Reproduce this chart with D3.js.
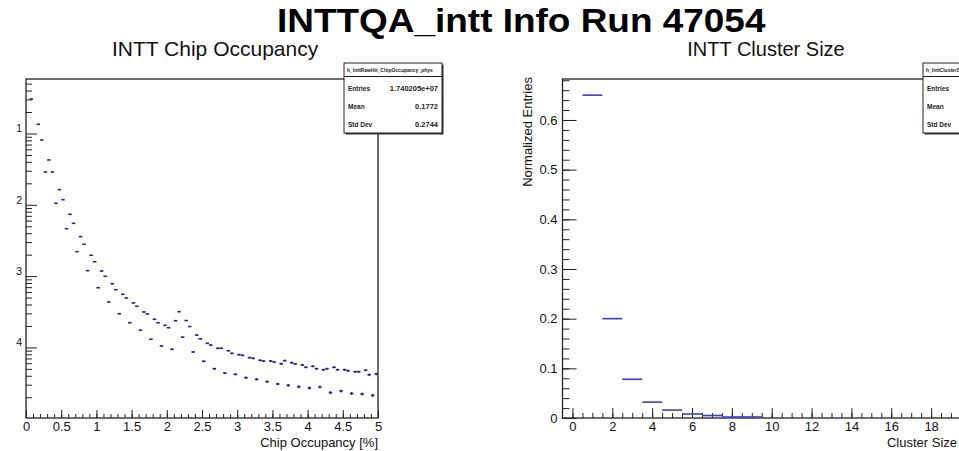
<!DOCTYPE html>
<html>
<head>
<meta charset="utf-8">
<script src="https://cdn.jsdelivr.net/npm/d3@7"></script>
<style>
  body { margin: 0; background: #fff; }
  text { font-family: "Liberation Sans", Arial, Helvetica, sans-serif; }
</style>
</head>
<body>
<svg id="chart" width="959" height="451"></svg>
<script>
// ---------------- data ----------------
const pageTitle = "INTTQA_intt Info Run 47054";

// chip occupancy histogram (log y), bin width 0.05 %
const occTitle = "INTT Chip Occupancy";
const occAxisTitle = "Chip Occupancy [%]";
const occHistName = "h_InttRawHit_ChipOccupancy_phys";
const occBinWidth = 0.05;
const occBinCenters = [
  0.075, 0.175, 0.225, 0.275, 0.325, 0.375, 0.425, 0.475, 0.525, 0.575,
  0.625, 0.675, 0.725, 0.775, 0.825, 0.875, 0.925, 0.975, 1.025, 1.075,
  1.125, 1.175, 1.225, 1.275, 1.325, 1.375, 1.425, 1.475, 1.525, 1.575,
  1.625, 1.675, 1.725, 1.775, 1.825, 1.875, 1.925, 1.975, 2.025, 2.075,
  2.125, 2.175, 2.225, 2.275, 2.325, 2.375, 2.425, 2.475, 2.525, 2.575,
  2.625, 2.675, 2.725, 2.775, 2.825, 2.875, 2.925, 2.975, 3.025, 3.075,
  3.125, 3.175, 3.225, 3.275, 3.325, 3.375, 3.425, 3.475, 3.525, 3.575,
  3.625, 3.675, 3.725, 3.775, 3.825, 3.875, 3.925, 3.975, 4.025, 4.075,
  4.125, 4.175, 4.225, 4.275, 4.325, 4.375, 4.425, 4.475, 4.525, 4.575,
  4.625, 4.675, 4.725, 4.775, 4.825, 4.875, 4.925, 4.975
];
const occValues = [
  3.05e-1, 1.346e-1, 8.11e-2, 2.88e-2, 4.25e-2, 2.88e-2, 1.05e-2, 1.63e-2, 1.178e-2, 4.62e-3,
  7.36e-3, 5.50e-3, 2.20e-3, 3.57e-3, 2.79e-3, 1.19e-3, 1.96e-3, 1.59e-3, 6.87e-4, 1.18e-3,
  9.93e-4, 4.34e-4, 7.82e-4, 6.44e-4, 2.97e-4, 5.56e-4, 4.93e-4, 2.22e-4, 4.20e-4, 3.77e-4,
  1.74e-4, 3.14e-4, 2.94e-4, 1.30e-4, 2.48e-4, 2.22e-4, 1.05e-4, 2.04e-4, 1.89e-4, 9.40e-5,
  2.37e-4, 3.17e-4, 1.39e-4, 2.38e-4, 1.96e-4, 8.63e-5, 1.49e-4, 1.32e-4, 6.38e-5, 1.14e-4,
  1.08e-4, 5.02e-5, 9.71e-5, 9.71e-5, 4.37e-5, 8.99e-5, 8.26e-5, 4.20e-5, 7.91e-5, 7.74e-5,
  3.76e-5, 7.18e-5, 7.03e-5, 3.57e-5, 6.59e-5, 6.44e-5, 3.30e-5, 6.44e-5, 6.24e-5, 3.07e-5,
  5.90e-5, 6.52e-5, 2.94e-5, 6.11e-5, 5.85e-5, 2.81e-5, 5.66e-5, 5.26e-5, 2.70e-5, 5.43e-5,
  5.02e-5, 2.79e-5, 4.86e-5, 5.02e-5, 2.32e-5, 5.26e-5, 4.86e-5, 2.45e-5, 4.86e-5, 4.71e-5,
  2.26e-5, 4.56e-5, 4.56e-5, 2.22e-5, 4.78e-5, 4.14e-5, 2.12e-5, 4.24e-5
];
const occEntries = 1.740205e7;
const occXTicks = [0, 0.5, 1, 1.5, 2, 2.5, 3, 3.5, 4, 4.5, 5];
const occXTickLabels = ["0", "0.5", "1", "1.5", "2", "2.5", "3", "3.5", "4", "4.5", "5"];
const occYDecades = [1e-1, 1e-2, 1e-3, 1e-4];
const occYDecadeLabels = ["1", "2", "3", "4"];
const occStatNames = ["Entries", "Mean", "Std Dev"];
const occStatValues = ["1.740205e+07", "0.1772", "0.2744"];

// cluster size histogram (linear y)
const csTitle = "INTT Cluster Size";
const csAxisTitle = "Cluster Size";
const csYAxisTitle = "Normalized Entries";
const csHistName = "h_InttClusterSize";
const csSizes = [1, 2, 3, 4, 5, 6, 7, 8, 9];
const csValues = [0.65, 0.20, 0.078, 0.032, 0.016, 0.008, 0.005, 0.002, 0.002];
const csXTicks = [0, 2, 4, 6, 8, 10, 12, 14, 16, 18];
const csYTicks = [0, 0.1, 0.2, 0.3, 0.4, 0.5, 0.6];
const csYTickLabels = ["0", "0.1", "0.2", "0.3", "0.4", "0.5", "0.6"];
const csStatNames = ["Entries", "Mean", "Std Dev"];

// ---------------- drawing ----------------
const svg = d3.select("#chart");
svg.append("rect").attr("width", 959).attr("height", 451).attr("fill", "#fff");

const frameColor = "#222";
const occColor = "#24249a";
const csColor = "#3c3cd2";

// page title, slightly widened bold face
svg.append("text")
  .attr("transform", "translate(277,32) scale(1.12,1)")
  .attr("font-size", 33).attr("font-weight", "bold")
  .attr("fill", "#000")
  .text(pageTitle);

function styleAxis(g) {
  g.select(".domain").remove();
  g.selectAll(".tick line").attr("stroke", frameColor).attr("stroke-width", 1);
  g.selectAll("text").attr("fill", "#111").attr("font-family", "Liberation Sans, Arial, sans-serif");
}

// ----- left panel: chip occupancy -----
const occBox = { left: 26, right: 378, top: 79, bottom: 418 };
const xOcc = d3.scaleLinear().domain([0, 5]).range([occBox.left, occBox.right]);
const yOcc = d3.scaleLog().domain([Math.pow(10, -4.99), Math.pow(10, -0.236)])
  .range([occBox.bottom, occBox.top]);

svg.append("text")
  .attr("x", 112).attr("y", 56).attr("font-size", 21).attr("fill", "#111")
  .text(occTitle);

// x minor ticks
svg.append("g").attr("transform", `translate(0,${occBox.bottom})`)
  .call(d3.axisBottom(xOcc).tickValues(d3.range(0, 5.001, 0.1)).tickFormat("")
    .tickSizeInner(-4).tickSizeOuter(0))
  .call(styleAxis);
// x major ticks + labels
svg.append("g").attr("transform", `translate(0,${occBox.bottom})`)
  .call(d3.axisBottom(xOcc).tickValues(occXTicks)
    .tickFormat((d, i) => occXTickLabels[i])
    .tickSizeInner(-8).tickSizeOuter(0).tickPadding(4))
  .call(styleAxis)
  .call(g => g.selectAll("text").attr("font-size", 13));

svg.append("text")
  .attr("x", occBox.right).attr("y", 447).attr("text-anchor", "end")
  .attr("font-size", 13).attr("fill", "#111")
  .text(occAxisTitle);

// y log ticks: minor (2..9 per decade) and decades
const occMinor = [];
for (let e = -5; e <= 0; e++) {
  for (let m = 2; m <= 9; m++) {
    const v = m * Math.pow(10, e);
    if (v >= yOcc.domain()[0] && v <= yOcc.domain()[1]) occMinor.push(v);
  }
}
svg.append("g").attr("transform", `translate(${occBox.left},0)`)
  .call(d3.axisLeft(yOcc).tickValues(occMinor).tickFormat("")
    .tickSizeInner(-6).tickSizeOuter(0))
  .call(styleAxis);
svg.append("g").attr("transform", `translate(${occBox.left},0)`)
  .call(d3.axisLeft(yOcc).tickValues(occYDecades)
    .tickFormat((d, i) => occYDecadeLabels[i])
    .tickSizeInner(-11).tickSizeOuter(0).tickPadding(4))
  .call(styleAxis)
  .call(g => g.selectAll("text").attr("font-size", 10.5)
    .attr("dy", "-0.15em"));

// frame
svg.append("rect")
  .attr("x", occBox.left).attr("y", occBox.top)
  .attr("width", occBox.right - occBox.left).attr("height", occBox.bottom - occBox.top)
  .attr("fill", "none").attr("stroke", frameColor).attr("stroke-width", 1.3);

// occupancy points with x (bin width) and y (statistical) error bars
const occPts = occBinCenters.map((c, i) => ({ c, v: occValues[i] }));
const occG = svg.append("g").attr("stroke", occColor).attr("fill", "none");
occG.selectAll("line.h").data(occPts).join("line").attr("class", "h")
  .attr("x1", d => xOcc(d.c - occBinWidth / 2))
  .attr("x2", d => xOcc(d.c + occBinWidth / 2))
  .attr("y1", d => yOcc(d.v)).attr("y2", d => yOcc(d.v))
  .attr("stroke-width", 1.6);
occG.selectAll("line.v").data(occPts).join("line").attr("class", "v")
  .attr("x1", d => xOcc(d.c)).attr("x2", d => xOcc(d.c))
  .attr("y1", d => yOcc(d.v + Math.sqrt(d.v / occEntries)))
  .attr("y2", d => yOcc(Math.max(d.v - Math.sqrt(d.v / occEntries), 1e-9)))
  .attr("stroke-width", 1.2);

// stats box
function statsBox(x, y, w, name, names, values) {
  const g = svg.append("g");
  g.append("rect").attr("x", x + 1.5).attr("y", y + 1.5).attr("width", w).attr("height", 70)
    .attr("fill", "#333");
  g.append("rect").attr("x", x).attr("y", y).attr("width", w).attr("height", 70)
    .attr("fill", "#fff").attr("stroke", "#222").attr("stroke-width", 1);
  g.append("line").attr("x1", x).attr("x2", x + w).attr("y1", y + 13.5).attr("y2", y + 13.5)
    .attr("stroke", "#222").attr("stroke-width", 1);
  g.append("text").attr("x", x + 3).attr("y", y + 9)
    .attr("font-size", 5).attr("font-weight", "bold").attr("fill", "#222").text(name);
  names.forEach((n, i) => {
    const ty = y + 28 + i * 18;
    g.append("text").attr("x", x + 4).attr("y", ty).attr("font-size", 6.5)
      .attr("font-weight", "bold").attr("fill", "#222").text(n);
    if (values) {
      g.append("text").attr("x", x + w - 4).attr("y", ty).attr("text-anchor", "end")
        .attr("font-size", 7.5).attr("font-weight", "bold").attr("fill", "#222").text(values[i]);
    }
  });
}
statsBox(344, 63, 98, occHistName, occStatNames, occStatValues);

// ----- right panel: cluster size -----
const csBox = { left: 562.5, right: 961, top: 79, bottom: 418 };
const xCs = d3.scaleLinear().domain([-0.5, 19.5]).range([csBox.left, csBox.right]);
const yCs = d3.scaleLinear().domain([0, 0.6825]).range([csBox.bottom, csBox.top]);

svg.append("text")
  .attr("x", 766).attr("y", 56).attr("text-anchor", "middle")
  .attr("font-size", 20).attr("fill", "#111")
  .text(csTitle);

svg.append("g").attr("transform", `translate(0,${csBox.bottom})`)
  .call(d3.axisBottom(xCs).tickValues(d3.range(0, 19.6, 0.5)).tickFormat("")
    .tickSizeInner(-5).tickSizeOuter(0))
  .call(styleAxis);
svg.append("g").attr("transform", `translate(0,${csBox.bottom})`)
  .call(d3.axisBottom(xCs).tickValues(csXTicks)
    .tickSizeInner(-10).tickSizeOuter(0).tickPadding(4))
  .call(styleAxis)
  .call(g => g.selectAll("text").attr("font-size", 13));

svg.append("text")
  .attr("x", 957).attr("y", 447).attr("text-anchor", "end")
  .attr("font-size", 13).attr("fill", "#111")
  .text(csAxisTitle);

svg.append("g").attr("transform", `translate(${csBox.left},0)`)
  .call(d3.axisLeft(yCs).tickValues(d3.range(0, 0.681, 0.02)).tickFormat("")
    .tickSizeInner(-7).tickSizeOuter(0))
  .call(styleAxis);
svg.append("g").attr("transform", `translate(${csBox.left},0)`)
  .call(d3.axisLeft(yCs).tickValues(csYTicks)
    .tickFormat((d, i) => csYTickLabels[i])
    .tickSizeInner(-14).tickSizeOuter(0).tickPadding(5))
  .call(styleAxis)
  .call(g => g.selectAll("text").attr("font-size", 13));

svg.append("text")
  .attr("transform", "translate(532,77) rotate(-90)")
  .attr("text-anchor", "end").attr("font-size", 13).attr("fill", "#111")
  .text(csYAxisTitle);

svg.append("rect")
  .attr("x", csBox.left).attr("y", csBox.top)
  .attr("width", csBox.right - csBox.left).attr("height", csBox.bottom - csBox.top)
  .attr("fill", "none").attr("stroke", frameColor).attr("stroke-width", 1.3);

svg.append("g").selectAll("line").data(csSizes.map((s, i) => ({ s, v: csValues[i] })))
  .join("line")
  .attr("x1", d => xCs(d.s - 0.5)).attr("x2", d => xCs(d.s + 0.5))
  .attr("y1", d => yCs(d.v)).attr("y2", d => yCs(d.v))
  .attr("stroke", csColor).attr("stroke-width", 1.6);

statsBox(923, 63, 98, csHistName, csStatNames, null);
</script>
</body>
</html>
